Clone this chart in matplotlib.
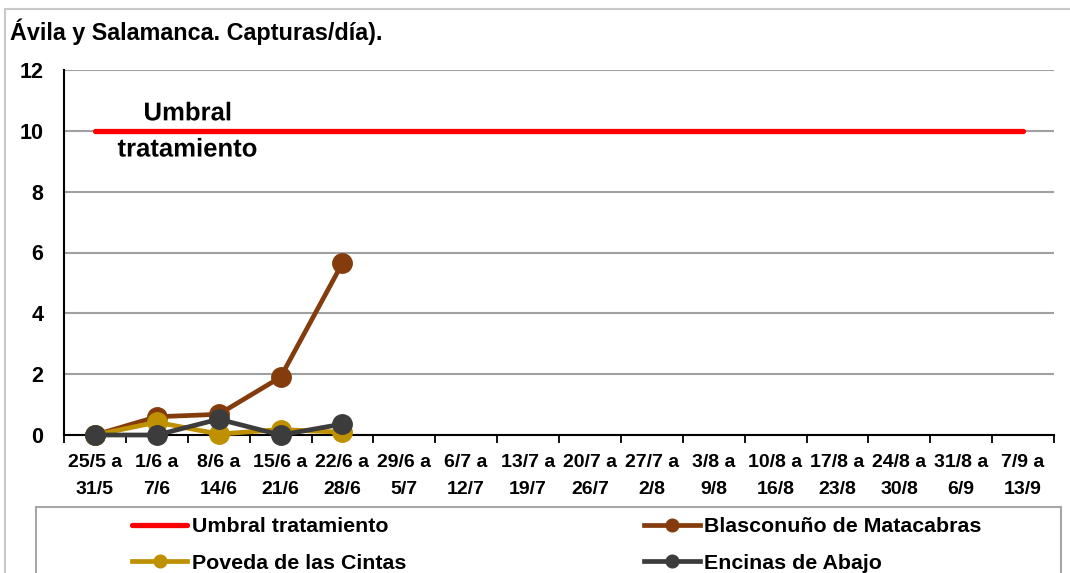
import matplotlib
matplotlib.use("Agg")
import matplotlib.pyplot as plt
import matplotlib.patheffects as pe
from matplotlib.patches import Rectangle

# =========================
# Datos (capturas/día)
# =========================
semanas = ["25/5 a\n31/5", "1/6 a\n7/6", "8/6 a\n14/6", "15/6 a\n21/6", "22/6 a\n28/6",
           "29/6 a\n5/7", "6/7 a\n12/7", "13/7 a\n19/7", "20/7 a\n26/7", "27/7 a\n2/8",
           "3/8 a\n9/8", "10/8 a\n16/8", "17/8 a\n23/8", "24/8 a\n30/8", "31/8 a\n6/9",
           "7/9 a\n13/9"]
umbral = [10] * len(semanas)
blasconuno = [0, 0.6, 0.68, 1.9, 5.65]
poveda = [0, 0.42, 0.03, 0.18, 0.09]
encinas = [0, 0, 0.52, 0, 0.36]

FONT = ["Liberation Sans", "DejaVu Sans"]
plt.rcParams["font.family"] = FONT
plt.rcParams["font.weight"] = "bold"

W, H = 1070, 573
fig = plt.figure(figsize=(W / 100, H / 100), dpi=100)
ax = fig.add_axes([64 / W, 1 - 435 / H, (1054 - 64) / W, (435 - 70) / H])

x_all = list(range(len(semanas)))
ax.plot(x_all, umbral, color="#FF0000", lw=3.8, solid_capstyle="round",
        label="Umbral tratamiento", zorder=3)
ax.plot(x_all[:len(blasconuno)], blasconuno, color="#843C0C", lw=3.4, marker="o", ms=14,
        label="Blasconuño de Matacabras", zorder=4, clip_on=False)
ax.plot(x_all[:len(poveda)], poveda, color="#BF9000", lw=3.4, marker="o", ms=14,
        label="Poveda de las Cintas", zorder=5, clip_on=False)
ax.plot(x_all[:len(encinas)], encinas, color="#3C3C3C", lw=3.4, marker="o", ms=14,
        label="Encinas de Abajo", zorder=6, clip_on=False)

ax.set_xlim(-0.5, len(semanas) - 0.5)
ax.set_ylim(0, 12)
ax.set_yticks(range(0, 13, 2))
ax.set_xticks(x_all)
ax.set_xticklabels(semanas, fontsize=14, fontweight="bold", linespacing=1.72)
ax.set_xticks([i - 0.5 for i in range(len(semanas) + 1)], minor=True)
ax.tick_params(axis="x", which="major", length=0, pad=14)
ax.tick_params(axis="x", which="minor", length=6, width=1.3, direction="out", color="black")
ax.tick_params(axis="y", length=0, pad=15, labelsize=15.5)
for lab in ax.get_yticklabels():
    lab.set_fontweight("bold")

ax.grid(axis="y", color="#A0A0A0", lw=1.5)
ax.set_axisbelow(True)
for s in ["top", "right"]:
    ax.spines[s].set_visible(False)
ax.spines["left"].set_linewidth(1.5)
ax.spines["bottom"].set_linewidth(1.5)
ax.spines["bottom"].set_zorder(2)

ax.text(1.5, 9.98, "Umbral\ntratamiento", ha="center", va="center", fontsize=18.5,
        fontweight="bold", linespacing=1.64, zorder=7,
        path_effects=[pe.withStroke(linewidth=4, foreground="white")])

fig.text(10 / W, 1 - 32 / H, "Ávila y Salamanca. Capturas/día).", fontsize=16.8,
         fontweight="bold", ha="left", va="center")

# marco exterior y caja de leyenda
fig.patches.append(Rectangle((5 / W, -0.1), 1.2, 1.1 - 9 / H, transform=fig.transFigure,
                             fill=False, edgecolor="#C8C8C8", lw=1.5))
fig.patches.append(Rectangle((35.7 / W, -0.1), (1060.7 - 35.7) / W, 0.1 + 1 - 506.7 / H,
                             transform=fig.transFigure, fill=False, edgecolor="#A6A6A6", lw=1.5))

hs, ls = ax.get_legend_handles_labels()
order = [0, 2, 1, 3]  # por columnas: umbral, poveda | blasconuño, encinas
leg = fig.legend([hs[i] for i in order], [ls[i] for i in order],
                 loc="upper left", bbox_to_anchor=(131.7 / W, 1 - 517.5 / H), ncol=2,
                 frameon=False, borderpad=0, borderaxespad=0,
                 handlelength=2.6, handletextpad=0.2, columnspacing=11.15,
                 labelspacing=0.8, markerscale=0.65, prop={"weight": "bold", "size": 15.4})

fig.savefig("out.png", dpi=100)
